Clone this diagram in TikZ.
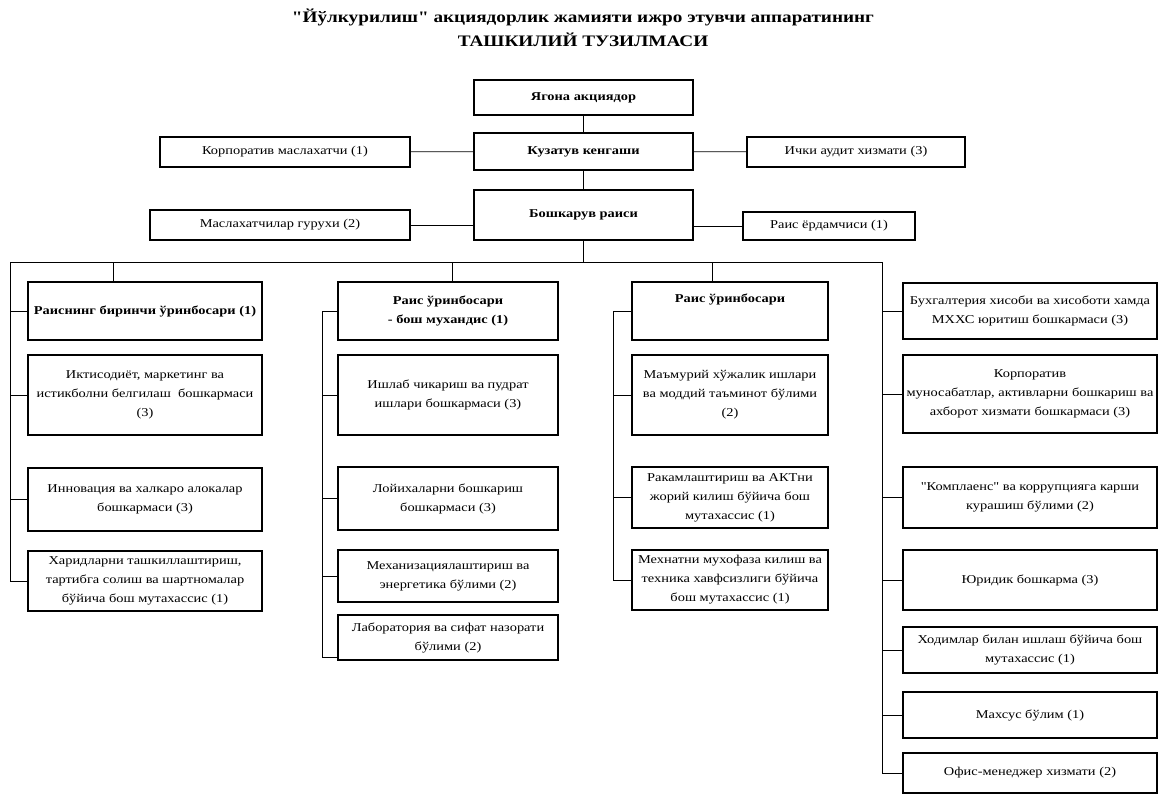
\documentclass[tikz,border=0pt]{standalone}
\usepackage{fontspec}
\setmainfont[FakeStretch=1.2,Ligatures=TeXOff]{Liberation Serif}
\tikzset{unit/.style={draw,line width=1.5pt,align=center,inner sep=2pt,font=\fontsize{12}{19}\selectfont}}
\tikzset{head/.style={unit,font=\fontsize{12}{19}\selectfont\bfseries}}

\begin{document}
\begin{tikzpicture}[x=1pt,y=-1pt,link/.style={line width=0.8pt}]
      \useasboundingbox (0,0) rectangle (1164,795);
      \node[font=\fontsize{16}{24}\selectfont\bfseries,align=center] (title) at (583,28)
        {"Йўлкурилиш" акциядорлик жамияти ижро этувчи аппаратининг\\ ТАШКИЛИЙ ТУЗИЛМАСИ};
      % top of the chart
      \node[head,minimum width=219pt,minimum height=35pt] (owner) at (583.5,97.5) {Ягона акциядор};
      \node[head,minimum width=219pt,minimum height=37pt] (board) at (583.5,151.5) {Кузатув кенгаши};
      \node[unit,minimum width=250pt,minimum height=30pt] (corp) at (285,152) {Корпоратив маслахатчи (1)};
      \node[unit,minimum width=218pt,minimum height=30pt] (audit) at (856,152) {Ички аудит хизмати (3)};
      \node[head,minimum width=219pt,minimum height=50pt] (chair) at (583.5,215) {Бошкарув раиси};
      \node[unit,minimum width=260pt,minimum height=30pt] (advis) at (280,225) {Маслахатчилар гурухи (2)};
      \node[unit,minimum width=172pt,minimum height=28pt] (assist) at (829,226) {Раис ёрдамчиси (1)};
      \path[link] (owner) edge (board) (board) edge (chair) (corp) edge (board) (board) edge (audit);
      \draw[link] (advis.east) -- (advis.east -| chair.west);
      \draw[link] (assist.west) -- (assist.west -| chair.east);
      % first column
      \node[head,minimum width=234pt,minimum height=58pt] (c1a) at (145,311) {Раиснинг биринчи ўринбосари (1)};
      \node[unit,minimum width=234pt,minimum height=80pt] (c1b) at (145,395) {Иктисодиёт, маркетинг ва\\ истикболни белгилаш\ \ бошкармаси\\ (3)};
      \node[unit,minimum width=234pt,minimum height=63pt] (c1c) at (145,499.5) {Инновация ва халкаро алокалар\\ бошкармаси (3)};
      \node[unit,minimum width=234pt,minimum height=60pt] (c1d) at (145,581) {Харидларни ташкиллаштириш,\\ тартибга солиш ва шартномалар\\ бўйича бош мутахассис (1)};
      % second column
      \node[head,minimum width=220pt,minimum height=58pt] (c2a) at (448,311) {Раис ўринбосари\\ - бош мухандис (1)};
      \node[unit,minimum width=220pt,minimum height=80pt] (c2b) at (448,395) {Ишлаб чикариш ва пудрат\\ ишлари бошкармаси (3)};
      \node[unit,minimum width=220pt,minimum height=63pt] (c2c) at (448,498.5) {Лойихаларни бошкариш\\ бошкармаси (3)};
      \node[unit,minimum width=220pt,minimum height=52pt] (c2d) at (448,576) {Механизациялаштириш ва\\ энергетика бўлими (2)};
      \node[unit,minimum width=220pt,minimum height=45pt] (c2e) at (448,637.5) {Лаборатория ва сифат назорати\\ бўлими (2)};
      % third column
      \node[head,minimum width=196pt,minimum height=58pt] (c3a) at (730,311) {Раис ўринбосари\\ \strut};
      \node[unit,minimum width=196pt,minimum height=80pt] (c3b) at (730,395) {Маъмурий хўжалик ишлари\\ ва моддий таъминот бўлими\\ (2)};
      \node[unit,minimum width=196pt,minimum height=61pt] (c3c) at (730,497.5) {Ракамлаштириш ва АКТни\\ жорий килиш бўйича бош\\ мутахассис (1)};
      \node[unit,minimum width=196pt,minimum height=60pt] (c3d) at (730,580) {Мехнатни мухофаза килиш ва\\ техника хавфсизлиги бўйича\\ бош мутахассис (1)};
      % fourth column
      \node[unit,minimum width=254pt,minimum height=56pt] (c4a) at (1030,311) {Бухгалтерия хисоби ва хисоботи хамда\\ МХХС юритиш бошкармаси (3)};
      \node[unit,minimum width=254pt,minimum height=78pt] (c4b) at (1030,394) {Корпоратив\\ муносабатлар, активларни бошкариш ва\\ ахборот хизмати бошкармаси (3)};
      \node[unit,minimum width=254pt,minimum height=61pt] (c4c) at (1030,497.5) {"Комплаенс" ва коррупцияга карши\\ курашиш бўлими (2)};
      \node[unit,minimum width=254pt,minimum height=60pt] (c4d) at (1030,580) {Юридик бошкарма (3)};
      \node[unit,minimum width=254pt,minimum height=46pt] (c4e) at (1030,650) {Ходимлар билан ишлаш бўйича бош\\ мутахассис (1)};
      \node[unit,minimum width=254pt,minimum height=46pt] (c4f) at (1030,715) {Махсус бўлим (1)};
      \node[unit,minimum width=254pt,minimum height=40pt] (c4g) at (1030,773) {Офис-менеджер хизмати (2)};
      % bus and spines
      \coordinate (busl) at (10,262);
      \coordinate (busr) at (882,262);
      \coordinate (t1) at (113,262);
      \coordinate (t2) at (452,262);
      \coordinate (t3) at (712,262);
      \coordinate (sp2) at (322,0);
      \coordinate (sp3) at (613,0);
      \draw[link] (chair) -- (chair |- busl);
      \draw[link] (busl) -- (busr);
      \draw[link] (t1) -- (t1 |- c1a.north);
      \draw[link] (t2) -- (t2 |- c2a.north);
      \draw[link] (t3) -- (t3 |- c3a.north);
      \draw[link] (busl) |- (c1d.west);
      \draw[link] (busr) |- (c4g.west);
      \foreach \n in {c1a,c1b,c1c} \draw[link] (busl |- \n.west) -- (\n.west);
      \foreach \n in {c4a,c4b,c4c,c4d,c4e,c4f} \draw[link] (busr |- \n.west) -- (\n.west);
      \draw[link] (c2a.west) -- (sp2 |- c2a.west) |- ([yshift=3pt]c2e.south west);
      \foreach \n in {c2b,c2c,c2d} \draw[link] (sp2 |- \n.west) -- (\n.west);
      \draw[link] (c3a.west) -- (sp3 |- c3a.west) |- (c3d.west);
      \foreach \n in {c3b,c3c} \draw[link] (sp3 |- \n.west) -- (\n.west);
    \end{tikzpicture}
\end{document}
